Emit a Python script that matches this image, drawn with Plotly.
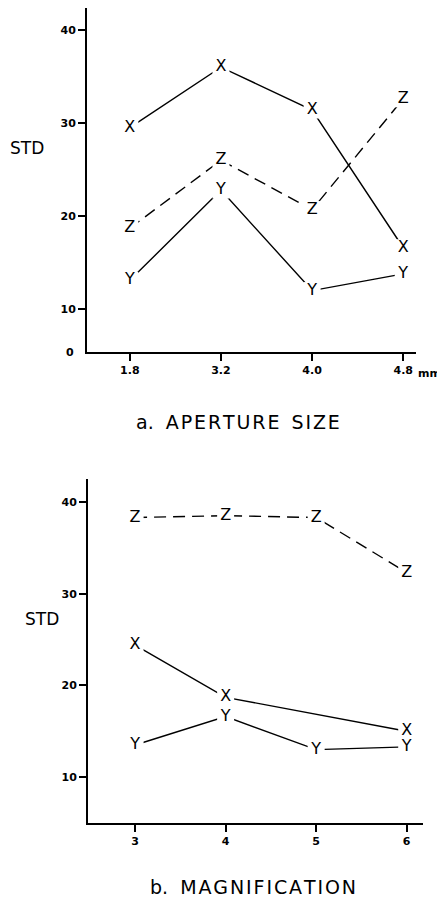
import plotly.graph_objects as go

# ---- data ----
aperture_cats = ["1.8", "3.2", "4.0", "4.8"]
aperture_x = [29.5, 36.0, 31.4, 16.6]
aperture_y = [13.1, 22.8, 12.0, 13.8]
aperture_z = [18.7, 26.0, 20.7, 32.6]

magn_cats = ["3", "4", "5", "6"]
magn_x = [24.4, 18.7, None, 15.0]
magn_y = [13.5, 16.6, 13.0, 13.3]
magn_z = [38.3, 38.5, 38.3, 32.3]

y_ticks = [10, 20, 30, 40]
y_ticklabels = ["10", "20", "30", "40"]

FONT = "DejaVu Sans"
OFF = 8            # default page body margin
W, H = 445 - OFF, 904 - OFF

def px(x):   # page pixel x -> paper fraction
    return (x - OFF) / W

def py(y):   # page pixel y -> paper fraction
    return min(1.0, 1 - (y - OFF) / H)

def spaced(s):
    hs = "\u200a"
    return hs.join(list(s))

fig = go.Figure()

def add_series(xcats, vals, letter, dashed, xa, ya):
    fig.add_trace(go.Scatter(
        x=xcats, y=vals, mode="lines+markers+text",
        text=[letter if v is not None else "" for v in vals],
        textposition="middle center",
        textfont=dict(family=FONT, size=16, color="black"),
        marker=dict(symbol="square", size=17, color="white", line=dict(width=0)),
        line=dict(color="black", width=1.4, dash="12px,7px" if dashed else "solid"),
        connectgaps=True, showlegend=False, hoverinfo="skip",
        xaxis=xa, yaxis=ya,
    ))

add_series(aperture_cats, aperture_x, "X", False, "x", "y")
add_series(aperture_cats, aperture_z, "Z", True, "x", "y")
add_series(aperture_cats, aperture_y, "Y", False, "x", "y")

add_series(magn_cats, magn_z, "Z", True, "x2", "y2")
add_series(magn_cats, magn_x, "X", False, "x2", "y2")
add_series(magn_cats, magn_y, "Y", False, "x2", "y2")

axis_common = dict(showgrid=False, zeroline=False, showline=True, linecolor="black",
                   linewidth=2, ticks="outside", ticklen=7, tickwidth=1.5,
                   tickcolor="black",
                   tickfont=dict(family=FONT, size=11, color="black", weight="bold"))

top_ybottom = 5.4
bot_ybottom = 5.0

fig.update_layout(
    width=W, height=H, margin=dict(l=0, r=0, t=0, b=0),
    plot_bgcolor="white", paper_bgcolor="white",
    xaxis=dict(domain=[px(87), px(416)], anchor="y", type="category",
               range=[-0.47, 3.14], **axis_common),
    yaxis=dict(domain=[py(352), py(8)], anchor="x",
               range=[top_ybottom, 42.36], tickvals=y_ticks, ticktext=y_ticklabels,
               **axis_common),
    xaxis2=dict(domain=[px(88), px(423)], anchor="y2", type="category",
                range=[-0.52, 3.18], **axis_common),
    yaxis2=dict(domain=[py(823), py(479)], anchor="x2",
                range=[bot_ybottom, 42.5], tickvals=y_ticks, ticktext=y_ticklabels,
                **axis_common),
)

ann = []
def text(x, y, s, size, xanchor="center", weight="normal"):
    ann.append(dict(x=px(x), y=py(y), xref="paper", yref="paper", text=s,
                    showarrow=False, xanchor=xanchor, yanchor="middle",
                    font=dict(family=FONT, size=size, color="black", weight=weight)))

text(27, 148, "STD", 17)
text(42, 619, "STD", 17)
text(70, 352, "0", 11, weight="bold")
text(416, 373, "mm", 11, xanchor="left", weight="bold")
text(238, 422, "a.  " + spaced("APERTURE") + "  " + spaced("SIZE"), 19)
text(253, 887, "b.  " + spaced("MAGNIFICATION"), 19)
fig.update_layout(annotations=ann)

fig.write_html("out.html")
